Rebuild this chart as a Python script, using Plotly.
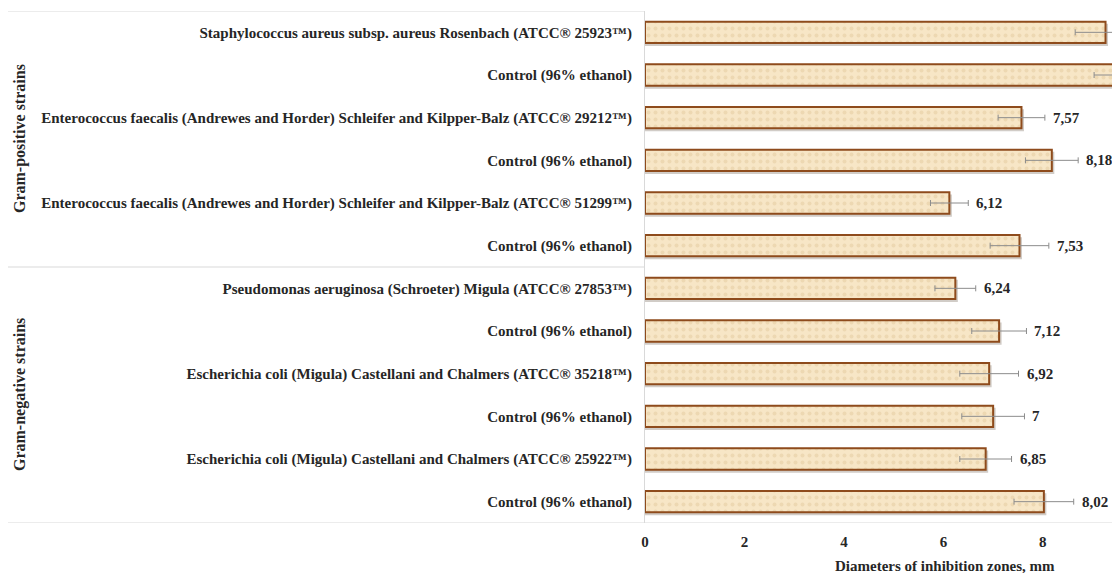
import plotly.graph_objects as go

# Strains / controls, listed top to bottom
strains = [
    "Staphylococcus aureus subsp. aureus Rosenbach (ATCC® 25923™)",
    "Control (96% ethanol)",
    "Enterococcus faecalis (Andrewes and Horder) Schleifer and Kilpper-Balz (ATCC® 29212™)",
    "Control (96% ethanol)",
    "Enterococcus faecalis (Andrewes and Horder) Schleifer and Kilpper-Balz (ATCC® 51299™)",
    "Control (96% ethanol)",
    "Pseudomonas aeruginosa (Schroeter) Migula (ATCC® 27853™)",
    "Control (96% ethanol)",
    "Escherichia coli (Migula) Castellani and Chalmers (ATCC® 35218™)",
    "Control (96% ethanol)",
    "Escherichia coli (Migula) Castellani and Chalmers (ATCC® 25922™)",
    "Control (96% ethanol)",
]
# Mean diameter of inhibition zone, mm
diameters = [9.26, 9.55, 7.57, 8.18, 6.12, 7.53, 6.24, 7.12, 6.92, 7.00, 6.85, 8.02]
# Standard deviation, mm
deviations = [0.61, 0.52, 0.47, 0.53, 0.38, 0.59, 0.41, 0.55, 0.59, 0.63, 0.52, 0.60]

groups = ["Gram-positive strains", "Gram-negative strains"]
group_sizes = [6, 6]

positions = list(range(len(strains)))

# Plot geometry in pixels
W, H = 1112, 573
L, R, T, B = 645, 0, 11, 50
plot_w = W - L - R
plot_h = H - T - B
X_MAX = 9.39


def px_to_paper_x(px):
    return (px - L) / plot_w


def px_to_paper_y(py):
    return (H - B - py) / plot_h


def fmt(v):
    s = f"{v:.2f}".rstrip("0").rstrip(".")
    return s.replace(".", ",")


serif = "Liberation Serif"
text_color = "#262626"
bold = dict(family=serif, color=text_color, weight="bold")

fig = go.Figure()

# drop shadow under each bar
fig.add_trace(go.Bar(
    y=[p + 0.06 for p in positions],
    x=[v + 0.05 for v in diameters],
    orientation="h",
    width=0.52,
    marker=dict(color="rgba(70,50,30,0.25)", line=dict(width=0)),
    hoverinfo="skip",
    showlegend=False,
))

# main bars with error bars
fig.add_trace(go.Bar(
    y=positions,
    x=diameters,
    orientation="h",
    width=0.5,
    marker=dict(
        color="#F7E6C6",
        line=dict(color="#8E4B1C", width=2),
        pattern=dict(shape=".", fgcolor="#EDD8B2", bgcolor="#F7E6C6",
                     size=7, solidity=0.25, fillmode="replace"),
    ),
    error_x=dict(type="data", array=deviations, symmetric=True,
                 color="#8C8C8C", thickness=1, width=3),
    showlegend=False,
))

annotations = []
# value labels to the right of each error bar
for p, v, sd in zip(positions, diameters, deviations):
    if v + sd < X_MAX:
        annotations.append(dict(
            x=v + sd, y=p, xref="x", yref="y", text=fmt(v),
            showarrow=False, xanchor="left", xshift=6,
            font=dict(size=15, **bold),
        ))

# group labels and dividers
start = 0
shapes = []
for g, n in zip(groups, group_sizes):
    mid = start + (n - 1) / 2
    annotations.append(dict(
        x=px_to_paper_x(20), y=mid, xref="paper", yref="y", text=g,
        textangle=-90, showarrow=False, xanchor="center", yanchor="middle",
        font=dict(size=16, **bold),
    ))
    shapes.append(dict(type="line", xref="paper", yref="y",
                       x0=px_to_paper_x(8), x1=0, y0=start - 0.5, y1=start - 0.5,
                       line=dict(color="#D9D9D9", width=1)))
    start += n
shapes.append(dict(type="line", xref="paper", yref="y",
                   x0=px_to_paper_x(8), x1=1, y0=start - 0.5, y1=start - 0.5,
                   line=dict(color="#D9D9D9", width=1)))

# axis title
annotations.append(dict(
    x=px_to_paper_x(945), y=px_to_paper_y(566), xref="paper", yref="paper",
    text="Diameters of inhibition zones, mm", showarrow=False,
    xanchor="center", yanchor="middle",
    font=dict(size=15, **bold),
))

fig.update_layout(
    width=W, height=H,
    margin=dict(l=L, r=R, t=T, b=B),
    paper_bgcolor="white", plot_bgcolor="white",
    barmode="overlay",
    annotations=annotations,
    shapes=shapes,
    font=dict(family=serif, color=text_color),
    xaxis=dict(
        range=[0, X_MAX], tickvals=[0, 2, 4, 6, 8],
        showgrid=False, zeroline=False, showline=False,
        tickfont=dict(size=15, **bold),
        ticks="", ticklabelstandoff=8,
    ),
    yaxis=dict(
        range=[len(strains) - 0.5, -0.5],
        tickvals=positions,
        ticktext=strains,
        showgrid=False, zeroline=False,
        showline=True, linecolor="#D9D9D9", linewidth=1,
        ticks="", ticklabelstandoff=9,
        tickfont=dict(size=15, **bold),
    ),
)

fig.write_html("out.html")
